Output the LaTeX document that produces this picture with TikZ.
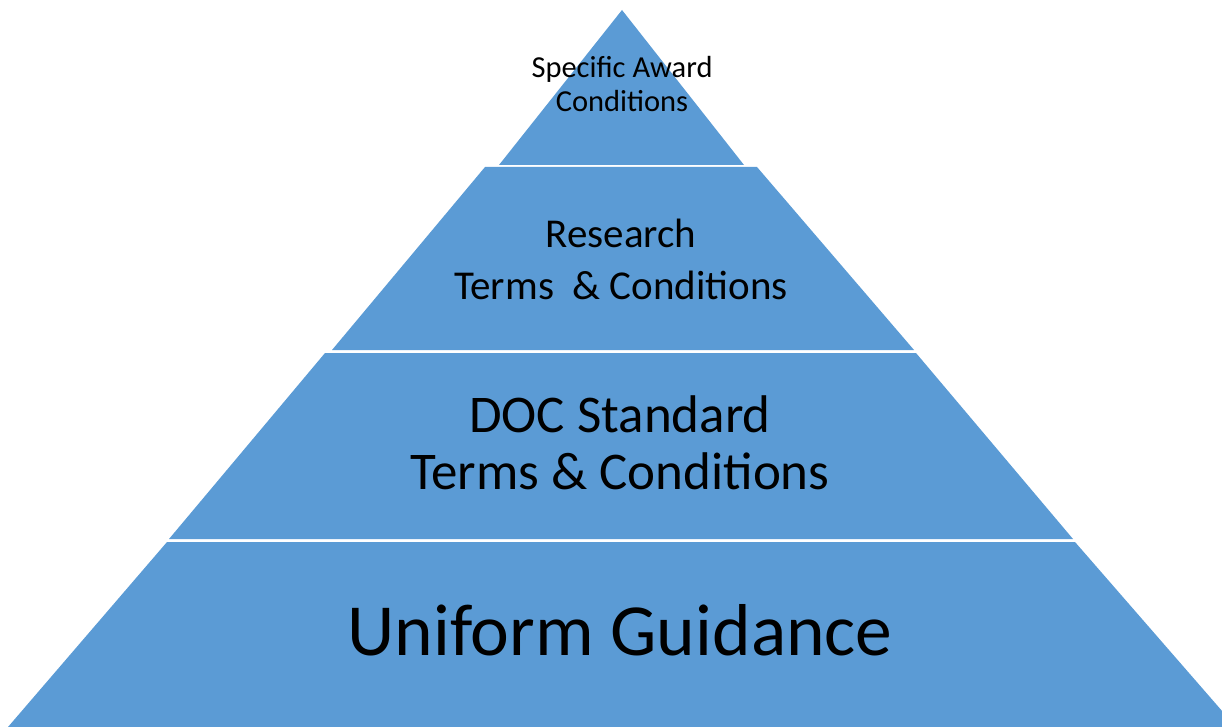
\documentclass[tikz,border=0pt]{standalone}
\usepackage{fontspec}
\setmainfont{Carlito}
\definecolor{pyrblue}{HTML}{5B9BD5}
\begin{document}
\begin{tikzpicture}[x=1pt,y=-1pt,
  band/.style={fill=pyrblue,draw=none},
  lbl/.style={align=center,text=black,inner sep=0pt}]
\useasboundingbox (0,0) rectangle (1222,727);
\begin{scope}
\clip (0,0) rectangle (1222,727);
\fill[band] (622,10) -- (744,165) -- (499,165) -- cycle;
\fill[band] (485,167) -- (757,167) -- (914,350) -- (332,350) -- cycle;
\fill[band] (325,353) -- (916,353) -- (1073,539) -- (169,539) -- cycle;
\fill[band] (167,542) -- (1075,542) -- (1236,727) -- (8,727) -- cycle;
\end{scope}
\node[lbl,font=\fontsize{30.5}{34}\selectfont] (top) at (622,84.5) {Specific Award\\Conditions};
\node[lbl,font=\fontsize{41}{52}\selectfont] (research) at (621,259.5) {Research\\Terms\ \ \& Conditions};
\node[lbl,font=\fontsize{53}{57}\selectfont] (doc) at (620,443) {DOC Standard\\Terms \& Conditions};
\node[lbl,font=\fontsize{73.5}{80}\selectfont] (ug) at (620,630) {Uniform Guidance};
\end{tikzpicture}
\end{document}
